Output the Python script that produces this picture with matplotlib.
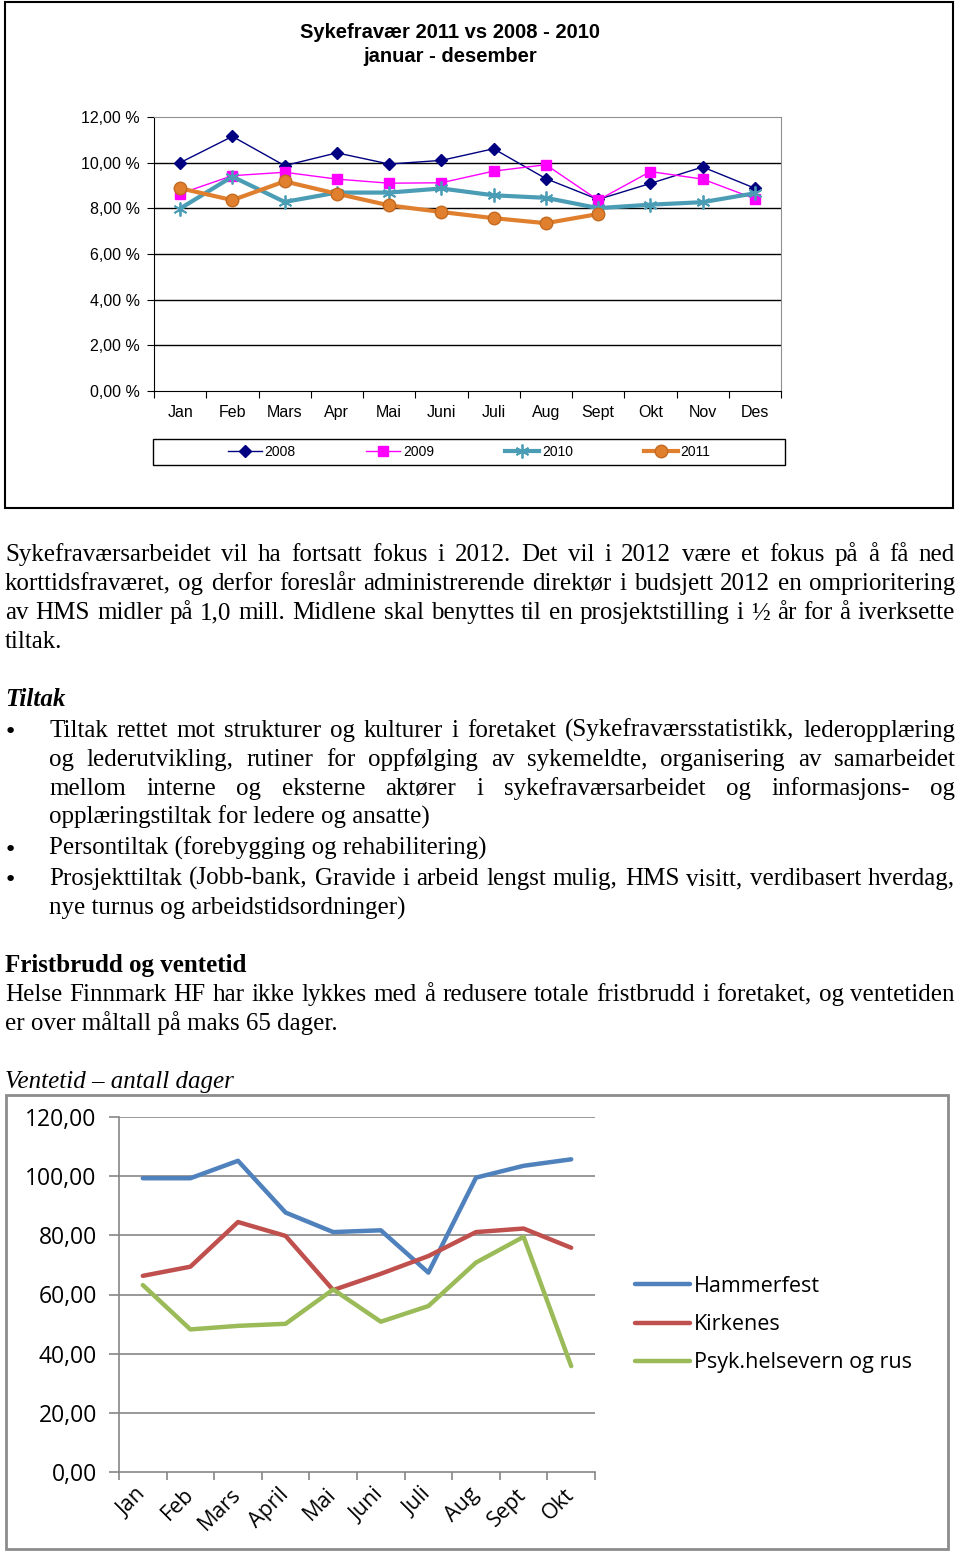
import matplotlib.pyplot as plt
from matplotlib.patches import Rectangle

W, H = 960, 1553

# Sykefravær i prosent per måned
months = ['Jan', 'Feb', 'Mars', 'Apr', 'Mai', 'Juni', 'Juli', 'Aug', 'Sept', 'Okt', 'Nov', 'Des']
syk_2008 = [10.00, 11.15, 9.87, 10.43, 9.94, 10.10, 10.61, 9.30, 8.39, 9.09, 9.81, 8.88]
syk_2009 = [8.64, 9.43, 9.58, 9.28, 9.10, 9.12, 9.63, 9.91, 8.36, 9.61, 9.28, 8.42]
syk_2010 = [7.99, 9.39, 8.28, 8.69, 8.69, 8.87, 8.57, 8.46, 8.01, 8.16, 8.27, 8.66]
syk_2011 = [8.88, 8.36, 9.18, 8.64, 8.13, 7.84, 7.57, 7.35, 7.75]
pct_ticks = [0, 2, 4, 6, 8, 10, 12]

# Ventetid i dager
vt_months = ['Jan', 'Feb', 'Mars', 'April', 'Mai', 'Juni', 'Juli', 'Aug', 'Sept', 'Okt']
hammerfest = [99.3, 99.3, 105.2, 87.7, 81.1, 81.7, 67.4, 99.5, 103.5, 105.7]
kirkenes = [66.3, 69.4, 84.5, 79.8, 61.5, 67.0, 73.0, 81.1, 82.3, 75.8]
psyk = [63.2, 48.2, 49.4, 50.1, 61.7, 50.8, 56.1, 70.8, 79.5, 35.8]
dager_ticks = [0, 20, 40, 60, 80, 100, 120]

fig = plt.figure(figsize=(W / 100, H / 100), dpi=100)
fig.patch.set_facecolor('white')

page = fig.add_axes([0, 0, 1, 1])
page.set_xlim(0, W)
page.set_ylim(H, 0)
page.axis('off')


def px_axes(l, t, r, b):
    return fig.add_axes([l / W, 1 - b / H, (r - l) / W, (b - t) / H])


# ---------- diagram 1: sykefravær ----------
page.add_patch(Rectangle((5, 2), 948, 506, fill=False, ec='black', lw=1.5))
page.add_patch(Rectangle((153, 439), 632, 26, fill=False, ec='black', lw=1))
fig.text(450 / W, 1 - 33 / H, 'Sykefravær 2011 vs 2008 - 2010', ha='center', va='center',
         fontsize=14.5, fontweight='bold', family='Liberation Sans')
fig.text(450 / W, 1 - 57 / H, 'januar - desember', ha='center', va='center',
         fontsize=14.5, fontweight='bold', family='Liberation Sans')

ax1 = px_axes(154, 117, 781, 391)
x12 = range(len(months))
l08, = ax1.plot(x12, syk_2008, color='#000080', lw=1, marker='D', ms=6.5, label='2008')
l09, = ax1.plot(x12, syk_2009, color='#ff00ff', lw=1, marker='s', ms=7, label='2009')
l10, = ax1.plot(x12, syk_2010, color='#4a9db5', lw=3, marker=(6, 2, 0), ms=10, mew=1.3, label='2010')
l11, = ax1.plot(range(len(syk_2011)), syk_2011, color='#e0802e', lw=3, marker='o', ms=9,
                mec='#c46a20', label='2011')
ax1.set_xlim(-0.5, 11.5)
ax1.set_ylim(0, 12)
ax1.set_yticks(pct_ticks)
ax1.set_yticklabels([f'{v:.2f} %'.replace('.', ',') for v in pct_ticks],
                    family='Liberation Sans', fontsize=11.5)
ax1.set_xticks([i + 0.5 for i in range(-1, 12)], minor=False)
ax1.set_xticklabels([])
ax1.set_xticks(list(x12), minor=True)
ax1.set_xticklabels(months, minor=True, family='Liberation Sans', fontsize=11.5)
ax1.tick_params(axis='x', which='major', length=5, direction='out', color='black')
ax1.tick_params(axis='x', which='minor', length=0, pad=10)
ax1.tick_params(axis='y', length=5, direction='out', pad=5)
for v in pct_ticks[1:-1]:
    ax1.axhline(v, color='black', lw=1, zorder=0.5)
for s in ['top', 'right']:
    ax1.spines[s].set_color('#909090')
for s in ['left', 'bottom']:
    ax1.spines[s].set_color('black')
fig.legend([l08, l09, l10, l11], ['2008', '2009', '2010', '2011'], loc='center',
           bbox_to_anchor=(469 / W, 1 - 452 / H), ncol=4, frameon=False,
           handlelength=2.45, handletextpad=0.2, columnspacing=5.1,
           prop={'family': 'Liberation Sans', 'size': 10})

# ---------- tekst ----------
renderer = fig.canvas.get_renderer()
SERIF = 'Liberation Serif'
FS = 18


def line(text, x0, y, x1=None, **kw):
    kw.setdefault('family', SERIF)
    kw.setdefault('fontsize', FS)
    if x1 is None:
        page.text(x0, y, text, va='baseline', ha='left', **kw)
        return
    words = text.split(' ')
    items = [page.text(0, y, w, va='baseline', ha='left', **kw) for w in words]
    widths = [t.get_window_extent(renderer).width for t in items]
    gap = (x1 - x0 - sum(widths)) / (len(words) - 1)
    x = x0
    for t, w in zip(items, widths):
        t.set_x(x)
        x += w + gap


L, R, IND = 5, 955, 49
line('Sykefraværsarbeidet vil ha fortsatt fokus i 2012. Det vil i 2012 være et fokus på å få ned', L, 561, R)
line('korttidsfraværet, og derfor foreslår administrerende direktør i budsjett 2012 en omprioritering', L, 590, R)
line('av HMS midler på 1,0 mill. Midlene skal benyttes til en prosjektstilling i ½ år for å iverksette', L, 619, R)
line('tiltak.', L, 648)

line('Tiltak', L, 706, fontweight='bold', style='italic')
for yb in [738, 856, 886]:
    page.text(10, yb, '•', ha='center', va='baseline', family='DejaVu Sans', fontsize=16)
line('Tiltak rettet mot strukturer og kulturer i foretaket (Sykefraværsstatistikk, lederopplæring', IND, 737, R)
line('og lederutvikling, rutiner for oppfølging av sykemeldte, organisering av samarbeidet', IND, 766, R)
line('mellom interne og eksterne aktører i sykefraværsarbeidet og informasjons- og', IND, 795, R)
line('opplæringstiltak for ledere og ansatte)', IND, 824)
line('Persontiltak (forebygging og rehabilitering)', IND, 855)
line('Prosjekttiltak (Jobb-bank, Gravide i arbeid lengst mulig, HMS visitt, verdibasert hverdag,', IND, 885, R)
line('nye turnus og arbeidstidsordninger)', IND, 915)

line('Fristbrudd og ventetid', L, 972, fontweight='bold')
line('Helse Finnmark HF har ikke lykkes med å redusere totale fristbrudd i foretaket, og ventetiden', L, 1001, R)
line('er over måltall på maks 65 dager.', L, 1030)
line('Ventetid – antall dager', L, 1088, style='italic')

# ---------- diagram 2: ventetid ----------
page.add_patch(Rectangle((6, 1095), 942, 454, fill=False, ec='#8c8c8c', lw=2))
ax2 = px_axes(119, 1117, 595, 1472)
x10 = range(len(vt_months))
h1, = ax2.plot(x10, hammerfest, color='#4f81bd', lw=3.2, solid_capstyle='round', label='Hammerfest')
h2, = ax2.plot(x10, kirkenes, color='#c0504d', lw=3.2, solid_capstyle='round', label='Kirkenes')
h3, = ax2.plot(x10, psyk, color='#9bbb59', lw=3.2, solid_capstyle='round', label='Psyk.helsevern og rus')
ax2.set_xlim(-0.5, 9.5)
ax2.set_ylim(0, 120)
ax2.set_yticks(dager_ticks)
ax2.set_yticklabels([f'{v:.2f}'.replace('.', ',') for v in dager_ticks], family='Open Sans', fontsize=16.5)
ax2.set_xticks([i + 0.5 for i in range(-1, 10)])
ax2.set_xticklabels([])
ax2.set_xticks(list(x10), minor=True)
ax2.set_xticklabels(vt_months, minor=True, family='Open Sans', fontsize=15.5,
                    rotation=45, ha='right', va='center', rotation_mode='anchor')
ax2.tick_params(axis='x', which='major', length=6, color='#868686', width=1.2)
ax2.tick_params(axis='x', which='minor', length=0, pad=14)
ax2.tick_params(axis='y', length=7, color='#868686', width=1.2, pad=9)
for v in dager_ticks[1:]:
    ax2.axhline(v, color='#868686', lw=1.2, zorder=0.5)
for s in ['top', 'right']:
    ax2.spines[s].set_visible(False)
for s in ['left', 'bottom']:
    ax2.spines[s].set_color('#868686')
    ax2.spines[s].set_linewidth(1.2)
fig.legend([h1, h2, h3], ['Hammerfest', 'Kirkenes', 'Psyk.helsevern og rus'], loc='upper left',
           bbox_to_anchor=(635 / W, 1 - 1276 / H), frameon=False, borderpad=0, borderaxespad=0,
           handlelength=2.55, handletextpad=0.19, labelspacing=0.8,
           prop={'family': 'Open Sans', 'size': 15.5})

fig.savefig('out.png', dpi=100)
